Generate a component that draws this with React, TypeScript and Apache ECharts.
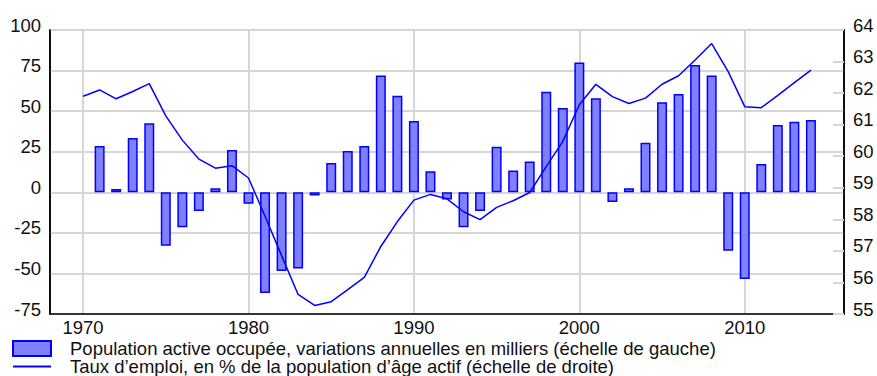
import React, { useEffect, useRef } from "react";
import * as echarts from "echarts";

const axisYears: string[] = [];
for (let y = 1968; y <= 2016; y++) axisYears.push(String(y));

const barYears = [1971,1972,1973,1974,1975,1976,1977,1978,1979,1980,1981,1982,1983,1984,1985,1986,1987,1988,1989,1990,1991,1992,1993,1994,1995,1996,1997,1998,1999,2000,2001,2002,2003,2004,2005,2006,2007,2008,2009,2010,2011,2012,2013,2014];
const employmentChange = [28.5,2,33.5,42.5,-33,-21.5,-11.5,2.5,26,-7,-62,-48.5,-47,-2,18,25.5,28.5,72,59.5,44,13,-4.5,-21.5,-11.5,28,13.5,19,62,52,80,58,-6,2.5,30.5,55.5,60.5,78.5,72,-36,-53.5,17.5,41.5,43.5,44.5];

const lineYears = [1970,1971,1972,1973,1974,1975,1976,1977,1978,1979,1980,1981,1982,1983,1984,1985,1986,1987,1988,1989,1990,1991,1992,1993,1994,1995,1996,1997,1998,1999,2000,2001,2002,2003,2004,2005,2006,2007,2008,2009,2010,2011,2012,2013,2014];
const employmentRate = [61.9,62.1,61.82,62.05,62.3,61.28,60.51,59.91,59.62,59.7,59.31,58.1,56.85,55.62,55.27,55.39,55.77,56.16,57.14,57.93,58.61,58.79,58.65,58.24,57.99,58.38,58.59,58.85,59.67,60.47,61.63,62.28,61.89,61.67,61.84,62.28,62.55,63.05,63.57,62.68,61.57,61.54,61.93,62.33,62.73];

const leftTicks = { min: -75, max: 100, interval: 25 };
const rightTicks = { min: 55, max: 64, interval: 1 };

const barName = "Population active occupée, variations annuelles en milliers (échelle de gauche)";
const lineName = "Taux d’emploi, en % de la population d’âge actif (échelle de droite)";

const FONT = "'Liberation Sans', Arial, Helvetica, sans-serif";
const FS = 18.5;

export default function App() {
  const ref = useRef<HTMLDivElement>(null);
  useEffect(() => {
    if (!ref.current) return;
    const chart = echarts.init(ref.current, undefined, { renderer: "svg" });
    const barData = axisYears.map((y) => {
      const i = barYears.indexOf(Number(y));
      return i >= 0 ? employmentChange[i] : null;
    });
    const lineData = axisYears.map((y) => {
      const i = lineYears.indexOf(Number(y));
      return i >= 0 ? employmentRate[i] : null;
    });
    const decade = (_i: number, v: string) => Number(v) % 10 === 0;
    const yLabel = { fontSize: FS, color: "#111", margin: 9, verticalAlign: "bottom", lineHeight: 10, fontFamily: FONT };
    chart.setOption({
      animation: false,
      textStyle: { fontFamily: FONT },
      grid: {
        left: 50, right: 33, top: 30, bottom: 62,
        show: true, borderColor: "#000", borderWidth: 1.5, containLabel: false,
      },
      legend: {
        orient: "vertical",
        left: 12,
        top: 339,
        height: 40,
        padding: 0,
        itemWidth: 38,
        itemHeight: 15,
        itemGap: -1,
        textStyle: { fontSize: FS, color: "#111", fontFamily: FONT, lineHeight: 17, padding: [0, 0, 0, 14] },
        data: [
          { name: barName, icon: "rect" },
          { name: lineName, icon: "path://M0,0H38V2H0Z" },
        ],
      },
      xAxis: {
        type: "category",
        data: axisYears,
        boundaryGap: false,
        axisLine: { show: true, onZero: false, lineStyle: { color: "#000", width: 1.5 } },
        axisTick: { show: false },
        axisLabel: { interval: decade, fontSize: FS, color: "#111", margin: 4, fontFamily: FONT },
        splitLine: { show: true, interval: decade, lineStyle: { color: "#d6d6d6", width: 2 } },
      },
      yAxis: [
        {
          type: "value",
          ...leftTicks,
          position: "left",
          axisLine: { show: true, lineStyle: { color: "#000", width: 1.5 } },
          axisTick: { show: false },
          axisLabel: yLabel,
          splitLine: { show: true, lineStyle: { color: "#d6d6d6", width: 2 } },
        },
        {
          type: "value",
          ...rightTicks,
          position: "right",
          axisLine: { show: true, lineStyle: { color: "#000", width: 1.5 } },
          axisTick: { show: true, inside: true, length: 11, lineStyle: { color: "#d6d6d6", width: 2 } },
          axisLabel: yLabel,
          splitLine: { show: false },
        },
      ],
      series: [
        {
          name: barName,
          type: "bar",
          yAxisIndex: 0,
          data: barData,
          barWidth: 10,
          itemStyle: { color: "#8080ff", borderColor: "#0000ff", borderWidth: 1.5 },
        },
        {
          name: lineName,
          type: "line",
          yAxisIndex: 1,
          data: lineData,
          symbol: "none",
          lineStyle: { color: "#0000ff", width: 1.5 },
          itemStyle: { color: "#0000ff" },
        },
      ],
    });
    return () => chart.dispose();
  }, []);
  return <div ref={ref} style={{ position: "absolute", left: 0, top: 0, width: 877, height: 376 }} />;
}
